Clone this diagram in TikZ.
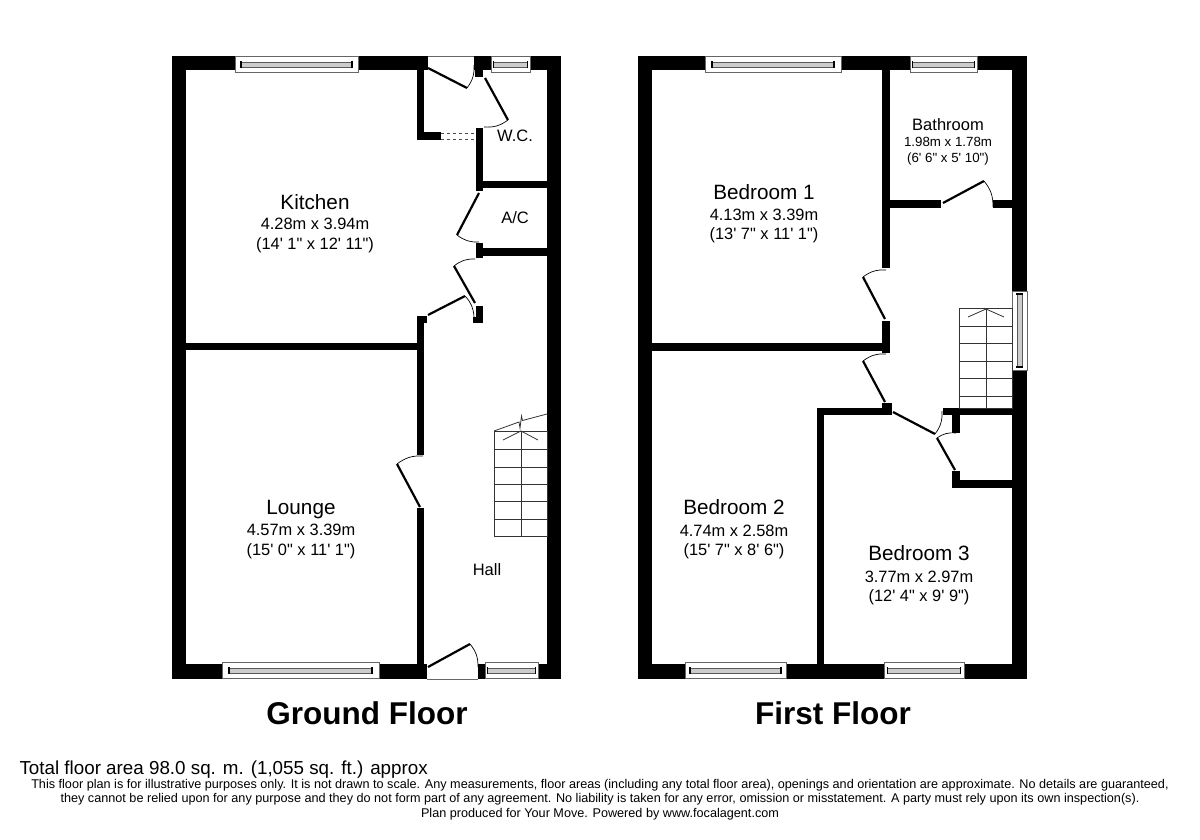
\documentclass[tikz,border=0pt]{standalone}
\usepackage{fontspec}
\usepackage{tikz}
\usetikzlibrary{calc}
\newfontfamily\planfont{Liberation Sans}

\tikzset{
	wall/.style={fill=black},
	leaf/.style={black,line width=2.2pt},
	swing/.style={black,line width=0.7pt},
	tread/.style={black!80,line width=0.8pt},
	winframe/.style={draw=black!60,fill=white,line width=0.9pt},
	winglass/.style={draw=black!65,fill=black!20,line width=0.8pt},
	wintick/.style={black,line width=1.2pt},
	roomname/.style={font=\planfont\fontsize{20.7}{23}\selectfont},
	roomsize/.style={font=\planfont\fontsize{16.4}{18}\selectfont},
	smallname/.style={font=\planfont\fontsize{16.5}{18}\selectfont},
	smallsize/.style={font=\planfont\fontsize{13.3}{15}\selectfont},
	floortitle/.style={font=\planfont\bfseries\fontsize{31.5}{34}\selectfont},
	areatext/.style={font=\planfont\fontsize{18.8}{21}\selectfont,anchor=west},
	smallprint/.style={font=\planfont\fontsize{12.65}{14}\selectfont},
}

\newcommand{\hwin}[4]{
	\draw[winframe] (#1,#3) rectangle (#2,#3+16);
	\draw[winglass] (#1+#4,#3+6) rectangle (#2-#4,#3+11);
	\draw[wintick] (#1+#4,#3+5) -- (#1+#4,#3+12);
	\draw[wintick] (#2-#4,#3+5) -- (#2-#4,#3+12);
}
\newcommand{\vwin}[4]{
	\draw[winframe] (#3,#1) rectangle (#3+15.5,#2);
	\draw[winglass] (#3+5,#1+#4) rectangle (#3+10,#2-#4);
	\draw[wintick] (#3+4,#1+#4) -- (#3+11,#1+#4);
	\draw[wintick] (#3+4,#2-#4) -- (#3+11,#2-#4);
}

\begin{document}
\begin{tikzpicture}[x=1pt,y=-1pt]
	\useasboundingbox (0,0) rectangle (1200,840);
	
	\coordinate (Kit)  at (315,202);
	\coordinate (Lou)  at (301,508);
	\coordinate (Bed1) at (764,192);
	\coordinate (Bed2) at (734,507);
	\coordinate (Bed3) at (919,553);
	\coordinate (Bath) at (948,125);
	
	% ground floor
	\fill[wall] (172,56) rectangle (428,70);
	\fill[wall] (474,56) rectangle (491,70);
	\fill[wall] (475,70) rectangle (483,77);
	\fill[wall] (530,56) rectangle (561,70);
	\fill[wall] (172,56) rectangle (186,679);
	\fill[wall] (547,56) rectangle (561,679);
	\fill[wall] (172,664) rectangle (427,679);
	\fill[wall] (478,664) rectangle (485,679);
	\fill[wall] (538,664) rectangle (561,679);
	\fill[wall] (417,70) rectangle (424,140);
	\fill[wall] (417,132) rectangle (441,140);
	\fill[wall] (476,128) rectangle (483,191);
	\fill[wall] (483,181) rectangle (547,188);
	\fill[wall] (476,243) rectangle (483,258);
	\fill[wall] (483,248) rectangle (547,256);
	\fill[wall] (476,306) rectangle (483,323);
	\fill[wall] (473,317) rectangle (476,323);
	\fill[wall] (417,316) rectangle (427,323);
	\fill[wall] (417,323) rectangle (424,455);
	\fill[wall] (417,508) rectangle (424,664);
	\fill[wall] (186,343) rectangle (417,350);
	
	\draw[black!60,line width=0.6pt] (428,56) -- (474,56);
	\draw[black!60,line width=0.6pt] (427,679) -- (478,679);
	\draw[black!70,line width=0.6pt,dashed] (441,133) -- (476,133);
	\draw[black!70,line width=0.6pt,dashed] (441,139) -- (476,139);
	
	\hwin{235}{358}{56}{6}
	\hwin{491}{530}{56}{2.5}
	\hwin{222}{379}{662}{7}
	\hwin{485}{538}{662}{2.5}
	
	\draw[leaf] (428,68) -- (467,88);
	\draw[swing] (467,88) to[bend right=20] (474,65);
	\draw[leaf] (485,78) -- (508,120);
	\draw[swing] (508,120) to[bend left=20] (484,127);
	\draw[leaf] (479,193) -- (457,235);
	\draw[swing] (457,235) to[bend right=20] (479,242);
	\draw[leaf] (475,303) -- (454,266);
	\draw[swing] (454,266) to[bend left=20] (475,259);
	\draw[leaf] (428,315) -- (465,296);
	\draw[swing] (465,296) to[bend left=20] (474,317);
	\draw[leaf] (420,507) -- (397,464);
	\draw[swing] (397,464) to[bend left=20] (423,456);
	\draw[leaf] (428,667) -- (470,644);
	\draw[swing] (470,644) to[bend left=20] (478,667);
	
	\draw[tread] (494,431) rectangle (547,536.5);
	\foreach \y in {449,467,484,501.5,519} {
		\draw[tread] (494,\y) -- (547,\y);
	}
	\draw[tread] (521,431) -- (521,536.5);
	\draw[tread] (494,431) -- (519,422) -- (520,428) -- (521.5,416) -- (522.5,420.5) -- (547,414);
	\draw[tread] (503,440) -- (521,431) -- (538,440);
	
	% first floor
	\fill[wall] (638,56) rectangle (1027,70);
	\fill[wall] (638,56) rectangle (652,679);
	\fill[wall] (1012,56) rectangle (1027,291);
	\fill[wall] (1012,370) rectangle (1027,679);
	\fill[wall] (638,664) rectangle (1027,679);
	\fill[wall] (882,70) rectangle (890,268);
	\fill[wall] (890,200) rectangle (941,208);
	\fill[wall] (993,200) rectangle (1012,208);
	\fill[wall] (882,321) rectangle (890,353);
	\fill[wall] (652,343) rectangle (882,351);
	\fill[wall] (817,408) rectangle (892,415);
	\fill[wall] (882,403) rectangle (892,408);
	\fill[wall] (817,415) rectangle (824,664);
	\fill[wall] (943,408) rectangle (1012,415);
	\fill[wall] (952,415) rectangle (960,433);
	\fill[wall] (952,471) rectangle (960,488);
	\fill[wall] (960,480) rectangle (1012,488);
	
	\hwin{705}{841}{56}{7}
	\hwin{910}{977}{56}{2.5}
	\hwin{685}{786}{662}{5}
	\hwin{884}{964}{662}{3.5}
	\vwin{291}{370}{1012}{3}
	
	\draw[leaf] (943,203) -- (984,181);
	\draw[swing] (984,181) to[bend left=20] (993,207);
	\draw[leaf] (885,319) -- (863,277);
	\draw[swing] (863,277) to[bend left=20] (886,270);
	\draw[leaf] (885,402) -- (863,361);
	\draw[swing] (863,361) to[bend left=20] (886,354);
	\draw[leaf] (893,412) -- (935,434);
	\draw[swing] (935,434) to[bend right=20] (942,411);
	\draw[leaf] (955,470) -- (937,438);
	\draw[swing] (937,438) to[bend left=20] (956,433);
	
	\draw[tread] (959,308) rectangle (1012,408);
	\foreach \y in {326,343,361,378,396} {
		\draw[tread] (959,\y) -- (1012,\y);
	}
	\draw[tread] (986,308) -- (986,408);
	\draw[tread] (968,317) -- (986,309) -- (1004,317);
	
	\node[roomname] (kitname) at (Kit) {Kitchen};
	\node[roomsize] (kitsize) at ($(Kit)+(0,22)$) {4.28m x 3.94m};
	\node[roomsize] (kitimp)  at ($(Kit)+(0,43)$) {(14' 1" x 12' 11")};
	\node[roomname] (louname) at ($(Lou)+(0,2)$) {Lounge};
	\node[roomsize] (lousize) at ($(Lou)+(0,22)$) {4.57m x 3.39m};
	\node[roomsize] (louimp)  at ($(Lou)+(0,43)$) {(15' 0" x 11' 1")};
	\node[smallname] (hall) at (487,570) {Hall};
	\node[smallname] (wc)   at (515,136) {W.C.};
	\node[smallname] (ac)   at (515,218) {A/C};
	
	\node[roomname] (bedonename) at (Bed1) {Bedroom 1};
	\node[roomsize] (bedonesize) at ($(Bed1)+(0,23)$) {4.13m x 3.39m};
	\node[roomsize] (bedoneimp)  at ($(Bed1)+(0,43)$) {(13' 7" x 11' 1")};
	\node[roomname] (bedtwoname) at (Bed2) {Bedroom 2};
	\node[roomsize] (bedtwosize) at ($(Bed2)+(0,24)$) {4.74m x 2.58m};
	\node[roomsize] (bedtwoimp)  at ($(Bed2)+(0,44)$) {(15' 7" x 8' 6")};
	\node[roomname] (bedthrname) at (Bed3) {Bedroom 3};
	\node[roomsize] (bedthrsize) at ($(Bed3)+(0,24)$) {3.77m x 2.97m};
	\node[roomsize] (bedthrimp)  at ($(Bed3)+(0,44)$) {(12' 4" x 9' 9")};
	\node[smallname] (bathname) at (Bath) {Bathroom};
	\node[smallsize] (bathsize) at ($(Bath)+(0,17)$) {1.98m x 1.78m};
	\node[smallsize] (bathimp)  at ($(Bath)+(0,34)$) {(6' 6" x 5' 10")};
	
	\node[floortitle] (ground) at (367,713) {Ground Floor};
	\node[floortitle] (first)  at (833,713) {First Floor};
	
	\node[areatext] (area) at (16,770) {Total floor area 98.0 sq. m. (1,055 sq. ft.) approx};
	\node[smallprint] (noteone) at (600,785) {This floor plan is for illustrative purposes only. It is not drawn to scale. Any measurements, floor areas (including any total floor area), openings and orientation are approximate. No details are guaranteed,};
	\node[smallprint] (notetwo) at (600,799) {they cannot be relied upon for any purpose and they do not form part of any agreement. No liability is taken for any error, omission or misstatement. A party must rely upon its own inspection(s).};
	\node[smallprint] (notethr) at (600,814) {Plan produced for Your Move. Powered by www.focalagent.com};
\end{tikzpicture}
\end{document}
